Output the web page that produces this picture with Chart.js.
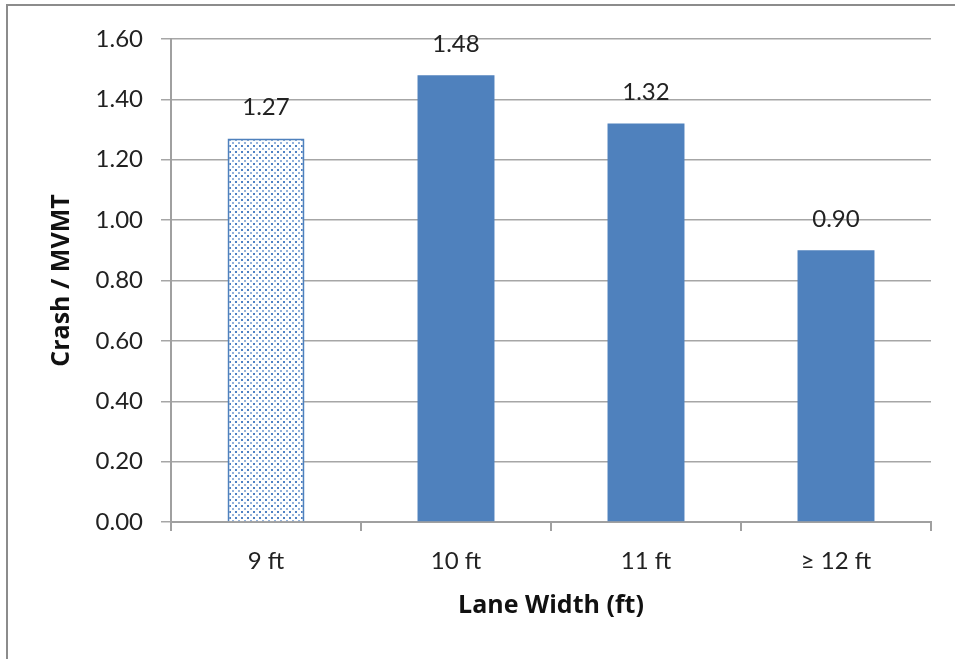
<!DOCTYPE html>
<html><head><meta charset="utf-8">
<script src="https://cdn.jsdelivr.net/npm/chart.js@4/dist/chart.umd.min.js"></script>
<style>html,body{margin:0;padding:0;background:#fff;}#wrap{width:955px;height:659px;position:relative;}</style>
</head><body><div id="wrap"><canvas id="c" width="955" height="659"></canvas></div>
<script>
const categories = ["9 ft", "10 ft", "11 ft", "\u2265 12 ft"];
const crashRates = [1.27, 1.48, 1.32, 0.90];
const yTicks = [0, 0.2, 0.4, 0.6, 0.8, 1.0, 1.2, 1.4, 1.6];

const BLUE = "#4F81BD";
const FONT = "Lato, 'Open Sans', sans-serif";
const TFONT = "'Open Sans', Lato, sans-serif";

function dotPattern() {
  const p = document.createElement("canvas");
  p.width = 6; p.height = 6;
  const g = p.getContext("2d");
  g.fillStyle = "#ffffff"; g.fillRect(0, 0, 6, 6);
  g.fillStyle = "rgba(60,115,190,0.9)";
  g.fillRect(1, 1, 2, 2);
  g.fillStyle = "rgba(60,115,190,0.55)";
  g.fillRect(4, 4, 2, 2);
  return document.getElementById("c").getContext("2d").createPattern(p, "repeat");
}
const pat = dotPattern();

const frame = {
  id: "frame",
  beforeDraw(chart) {
    const ctx = chart.ctx;
    ctx.save();
    ctx.fillStyle = "#fff";
    ctx.fillRect(0, 0, chart.width, chart.height);
    ctx.strokeStyle = "#8c8c8c";
    ctx.lineWidth = 2;
    ctx.beginPath();
    ctx.moveTo(7, chart.height); ctx.lineTo(7, 5); ctx.lineTo(chart.width, 5);
    ctx.stroke();
    ctx.restore();
  }
};
const labels = {
  id: "valueLabels",
  afterDatasetsDraw(chart) {
    const ctx = chart.ctx;
    const meta = chart.getDatasetMeta(0);
    ctx.save();
    ctx.font = "24px " + FONT;
    ctx.fillStyle = "#222";
    ctx.textAlign = "center";
    ctx.textBaseline = "middle";
    meta.data.forEach((el, i) => {
      ctx.fillText(crashRates[i].toFixed(2), el.x, el.y - 31);
    });
    ctx.restore();
  }
};

new Chart(document.getElementById("c"), {
  type: "bar",
  data: {
    labels: categories,
    datasets: [{
      data: crashRates,
      backgroundColor: crashRates.map((v, i) => i === 0 ? pat : BLUE),
      borderColor: BLUE,
      borderWidth: crashRates.map((v, i) => i === 0 ? 2 : 0),
      categoryPercentage: 1,
      barPercentage: 0.405
    }]
  },
  plugins: [frame, labels],
  options: {
    responsive: false,
    animation: false,
    devicePixelRatio: 1,
    layout: { padding: { top: 39, right: 24, left: 0, bottom: 38 } },
    plugins: { legend: { display: false }, tooltip: { enabled: false } },
    scales: {
      x: {
        afterFit(s) { s.height = 99; },
        grid: { drawOnChartArea: false, drawTicks: true, tickLength: 9, color: "#a0a0a0", lineWidth: 2, offset: true },
        border: { display: true, color: "#a0a0a0", width: 2 },
        ticks: { color: "#222", font: { family: FONT, size: 24 }, padding: 16 },
        title: { display: true, text: "Lane Width (ft)", color: "#111", font: { family: TFONT, size: 25, weight: "bold" }, padding: 0 }
      },
      y: {
        min: 0, max: 1.6,
        afterFit(s) { s.width = 171; },
        afterBuildTicks(s) { s.ticks = yTicks.map(v => ({ value: v })); },
        grid: { color: "#a6a6a6", lineWidth: 1.5, tickLength: 10 },
        border: { display: true, color: "#a0a0a0", width: 2 },
        ticks: { color: "#222", font: { family: FONT, size: 24 }, padding: 18, callback: v => Number(v).toFixed(2) },
        title: { display: true, text: "Crash / MVMT", color: "#111", font: { family: TFONT, size: 25, weight: "bold" }, padding: { top: 47, bottom: 0 } }
      }
    }
  }
});
</script></body></html>
